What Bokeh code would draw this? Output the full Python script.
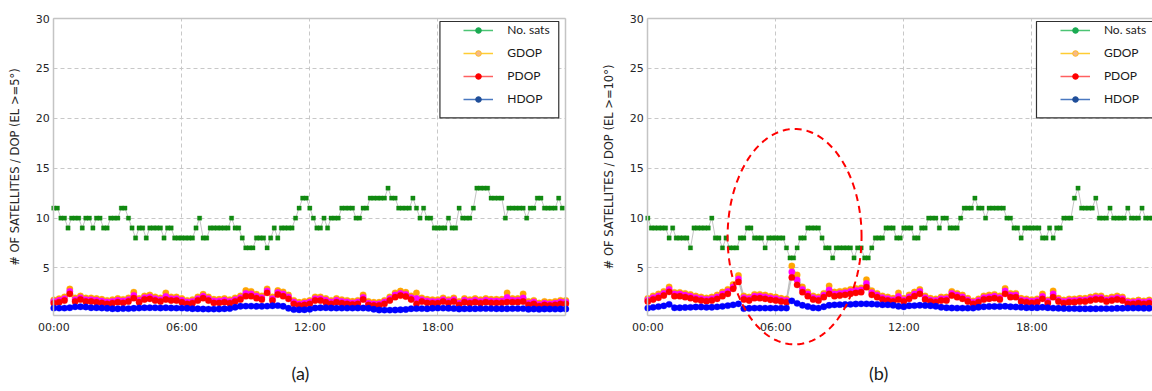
import numpy as np
from bokeh.plotting import figure
from bokeh.layouts import row
from bokeh.models import (Range1d, FixedTicker, Legend, LegendItem, Label,
                          PolyAnnotation, BoxAnnotation, LinearAxis)
from bokeh.embed import file_html
from bokeh.resources import INLINE

# ---------------- data ----------------
hour_ticks = [0, 6, 12, 18]
hour_labels = ["00:00", "06:00", "12:00", "18:00"]
y_ticks = [5, 10, 15, 20, 25, 30]

SATS_STEP_H = 1 / 6   # 10-minute samples
DOP_STEP_H = 0.25     # 15-minute samples

# panel (a): elevation mask 5 deg
sats_a = [11, 11, 10, 10, 9, 10, 10, 10, 9, 10,
          10, 9, 10, 10, 9, 9, 10, 10, 10, 11,
          11, 10, 9, 8, 9, 9, 8, 9, 9, 9,
          9, 8, 9, 9, 8, 8, 8, 8, 8, 8,
          9, 10, 8, 8, 9, 9, 9, 9, 9, 9,
          10, 9, 9, 8, 7, 7, 7, 8, 8, 8,
          7, 8, 9, 8, 9, 9, 9, 9, 10, 11,
          12, 12, 11, 10, 9, 9, 10, 9, 10, 10,
          10, 11, 11, 11, 11, 10, 10, 11, 11, 12,
          12, 12, 12, 12, 13, 12, 12, 11, 11, 11,
          11, 12, 11, 10, 11, 10, 10, 9, 9, 9,
          9, 10, 9, 9, 11, 10, 10, 10, 11, 13,
          13, 13, 13, 12, 12, 12, 12, 10, 11, 11,
          11, 11, 11, 10, 11, 11, 12, 12, 11, 11,
          11, 11, 12, 11]
gdop_a = [1.80, 1.92, 2.10, 2.90, 2.00, 2.20, 2.00, 2.00, 1.93, 1.86,
          1.75, 1.82, 1.93, 1.85, 2.00, 2.57, 1.93, 2.20, 2.28, 2.10,
          2.00, 2.50, 2.10, 2.10, 1.93, 1.75, 1.82, 2.10, 2.36, 2.10,
          1.86, 1.86, 1.93, 1.82, 2.00, 2.20, 2.73, 2.65, 2.36, 2.20,
          2.90, 2.10, 2.73, 2.60, 2.28, 1.75, 1.56, 1.64, 1.75, 2.10,
          2.10, 1.93, 1.75, 1.93, 1.82, 1.75, 1.66, 1.75, 2.30, 1.64,
          1.56, 1.56, 1.75, 2.10, 2.50, 2.68, 2.56, 2.20, 2.50, 2.00,
          1.86, 1.82, 1.82, 2.00, 1.82, 2.00, 1.64, 1.93, 1.82, 1.93,
          1.82, 1.93, 1.86, 1.86, 1.86, 2.50, 1.93, 1.93, 2.40, 1.64,
          1.75, 1.48, 1.64, 1.56, 1.64, 1.75, 1.75]
mdop_a = [1.65, 1.76, 1.92, 2.65, 1.82, 2.02, 1.82, 1.82, 1.76, 1.68,
          1.58, 1.65, 1.76, 1.68, 1.82, 2.25, 1.76, 2.02, 2.10, 1.92,
          1.82, 2.15, 1.92, 1.92, 1.76, 1.58, 1.65, 1.92, 2.17, 1.92,
          1.68, 1.68, 1.76, 1.65, 1.82, 2.02, 2.45, 2.40, 2.17, 2.02,
          2.70, 1.92, 2.53, 2.38, 2.10, 1.58, 1.40, 1.47, 1.58, 1.92,
          1.92, 1.76, 1.58, 1.76, 1.65, 1.58, 1.50, 1.58, 2.05, 1.47,
          1.40, 1.40, 1.58, 1.92, 2.28, 2.45, 2.35, 2.02, 1.95, 1.82,
          1.68, 1.65, 1.65, 1.82, 1.65, 1.82, 1.47, 1.76, 1.65, 1.76,
          1.65, 1.76, 1.68, 1.68, 1.68, 2.05, 1.76, 1.76, 2.00, 1.47,
          1.58, 1.33, 1.47, 1.40, 1.47, 1.58, 1.58]
pdop_a = [1.47, 1.57, 1.73, 2.40, 1.63, 1.83, 1.63, 1.63, 1.57, 1.50,
          1.40, 1.47, 1.57, 1.50, 1.63, 1.97, 1.57, 1.83, 1.90, 1.73,
          1.63, 1.83, 1.73, 1.73, 1.57, 1.40, 1.47, 1.73, 1.97, 1.73,
          1.50, 1.50, 1.57, 1.47, 1.63, 1.83, 2.17, 2.17, 1.97, 1.83,
          2.50, 1.73, 2.33, 2.17, 1.90, 1.40, 1.23, 1.30, 1.40, 1.73,
          1.73, 1.57, 1.40, 1.57, 1.47, 1.40, 1.33, 1.40, 1.83, 1.30,
          1.23, 1.23, 1.40, 1.73, 2.07, 2.23, 2.13, 1.83, 1.40, 1.63,
          1.50, 1.47, 1.47, 1.63, 1.47, 1.63, 1.30, 1.57, 1.47, 1.57,
          1.47, 1.57, 1.50, 1.50, 1.50, 1.57, 1.57, 1.57, 1.63, 1.30,
          1.40, 1.17, 1.30, 1.23, 1.30, 1.40, 1.40]
hdop_a = [0.97, 0.97, 0.97, 1.00, 1.10, 1.10, 1.08, 1.00, 1.00, 0.98,
          0.95, 0.90, 0.90, 0.92, 0.92, 0.95, 0.98, 1.00, 1.00, 1.00,
          0.98, 1.00, 0.98, 0.97, 0.97, 0.95, 0.90, 0.90, 0.88, 0.87,
          0.87, 0.88, 0.90, 0.92, 1.05, 1.15, 1.17, 1.17, 1.15, 1.15,
          1.17, 1.20, 1.22, 1.15, 0.95, 0.82, 0.80, 0.80, 0.85, 0.98,
          1.00, 1.00, 0.98, 0.97, 0.97, 0.97, 0.97, 0.98, 0.98, 0.95,
          0.85, 0.78, 0.77, 0.77, 0.78, 0.80, 0.83, 0.90, 0.92, 0.92,
          0.90, 0.95, 0.97, 0.97, 0.95, 0.93, 0.88, 0.90, 0.90, 0.90,
          0.92, 0.92, 0.92, 0.90, 0.90, 0.90, 0.92, 0.92, 0.92, 0.85,
          0.88, 0.85, 0.88, 0.88, 0.87, 0.88, 0.88]

# panel (b): elevation mask 10 deg
sats_b = [10, 9, 9, 9, 9, 9, 8, 9, 8, 8,
          8, 8, 7, 9, 9, 9, 9, 9, 10, 8,
          8, 7, 8, 7, 7, 7, 8, 8, 9, 9,
          8, 8, 8, 7, 8, 8, 8, 8, 8, 7,
          6, 6, 7, 8, 8, 9, 9, 9, 9, 8,
          7, 7, 6, 7, 7, 7, 7, 7, 6, 7,
          7, 6, 6, 7, 8, 8, 8, 9, 9, 9,
          8, 8, 9, 9, 9, 8, 8, 9, 9, 10,
          10, 10, 9, 10, 10, 9, 9, 9, 10, 11,
          11, 11, 12, 11, 11, 10, 11, 11, 11, 11,
          11, 10, 10, 9, 9, 8, 9, 9, 9, 9,
          9, 8, 8, 9, 8, 9, 9, 10, 10, 10,
          12, 13, 11, 11, 11, 11, 12, 10, 10, 10,
          11, 10, 10, 10, 10, 11, 10, 10, 10, 11,
          10, 10, 10, 10]
gdop_b = [1.95, 2.20, 2.40, 2.65, 3.10, 2.55, 2.55, 2.45, 2.33, 2.18,
          2.08, 2.00, 2.08, 2.28, 2.58, 2.85, 3.35, 4.25, 2.20, 2.08,
          2.35, 2.35, 2.28, 2.16, 2.08, 1.96, 1.90, 5.20, 4.30, 3.10,
          2.58, 2.20, 2.08, 2.45, 3.20, 2.58, 2.65, 2.72, 2.85, 2.95,
          3.00, 3.83, 2.72, 2.45, 2.20, 2.08, 1.96, 2.50, 1.96, 2.28,
          2.58, 2.85, 2.20, 1.96, 1.90, 2.08, 2.08, 2.65, 2.45, 2.28,
          1.96, 1.70, 1.90, 2.20, 2.28, 2.35, 2.20, 2.95, 2.45, 2.45,
          1.96, 1.90, 1.82, 1.90, 2.40, 1.78, 2.70, 1.96, 1.78, 1.90,
          1.90, 1.96, 1.96, 2.08, 2.20, 2.20, 1.96, 2.08, 2.20, 2.08,
          1.70, 1.70, 1.78, 1.70, 1.78, 1.70, 1.70]
mdop_b = [1.80, 2.02, 2.20, 2.45, 2.85, 2.38, 2.38, 2.27, 2.16, 2.02,
          1.92, 1.85, 1.92, 2.10, 2.38, 2.63, 3.10, 3.90, 2.02, 1.92,
          2.16, 2.16, 2.10, 1.98, 1.92, 1.80, 1.74, 4.60, 3.80, 2.85,
          2.38, 2.02, 1.92, 2.27, 2.80, 2.38, 2.45, 2.52, 2.63, 2.73,
          2.80, 3.45, 2.52, 2.27, 2.02, 1.92, 1.80, 2.15, 1.80, 2.10,
          2.38, 2.63, 2.02, 1.80, 1.74, 1.92, 1.92, 2.45, 2.27, 2.10,
          1.80, 1.56, 1.74, 2.02, 2.10, 2.16, 2.02, 2.68, 2.27, 2.27,
          1.80, 1.74, 1.66, 1.74, 2.15, 1.63, 2.40, 1.80, 1.63, 1.74,
          1.74, 1.80, 1.80, 1.92, 2.02, 2.02, 1.80, 1.92, 2.02, 1.92,
          1.56, 1.56, 1.63, 1.56, 1.63, 1.56, 1.56]
pdop_b = [1.63, 1.83, 2.00, 2.23, 2.60, 2.17, 2.17, 2.07, 1.97, 1.83,
          1.73, 1.67, 1.73, 1.90, 2.17, 2.40, 2.90, 3.60, 1.83, 1.73,
          1.97, 1.97, 1.90, 1.80, 1.73, 1.63, 1.57, 4.05, 3.30, 2.57,
          2.17, 1.83, 1.73, 2.07, 2.40, 2.17, 2.23, 2.30, 2.40, 2.50,
          2.57, 3.07, 2.30, 2.07, 1.83, 1.73, 1.63, 1.83, 1.63, 1.90,
          2.17, 2.40, 1.83, 1.63, 1.57, 1.73, 1.73, 2.23, 2.07, 1.90,
          1.63, 1.40, 1.57, 1.83, 1.90, 1.97, 1.83, 2.40, 2.07, 2.07,
          1.63, 1.57, 1.50, 1.57, 1.90, 1.47, 2.07, 1.63, 1.47, 1.57,
          1.57, 1.63, 1.63, 1.73, 1.83, 1.83, 1.63, 1.73, 1.83, 1.73,
          1.40, 1.40, 1.47, 1.40, 1.47, 1.40, 1.40]
hdop_b = [0.97, 1.05, 1.12, 1.20, 1.35, 1.00, 1.00, 1.03, 1.05, 1.08,
          1.08, 1.05, 1.05, 1.10, 1.15, 1.22, 1.30, 1.40, 0.92, 0.95,
          0.97, 0.97, 0.97, 0.97, 0.97, 0.97, 0.97, 1.70, 1.45, 1.25,
          1.13, 1.00, 0.97, 1.10, 1.25, 1.30, 1.32, 1.33, 1.35, 1.38,
          1.40, 1.40, 1.38, 1.35, 1.30, 1.30, 1.25, 1.15, 1.10, 1.20,
          1.22, 1.25, 1.23, 1.20, 1.15, 1.05, 1.00, 0.98, 0.97, 0.97,
          0.97, 0.97, 1.05, 1.10, 1.13, 1.13, 1.13, 1.15, 1.10, 1.08,
          1.05, 1.00, 1.00, 1.00, 1.05, 1.00, 0.97, 0.95, 0.93, 0.92,
          0.92, 0.90, 0.90, 0.90, 0.90, 0.92, 0.92, 0.92, 0.95, 0.95,
          0.97, 0.97, 0.97, 0.95, 0.95, 0.97, 0.97]

legend_labels = ["No. sats", "GDOP", "PDOP", "HDOP"]

# ---------------- styling / geometry ----------------
FONT = "DejaVu Sans"
TXT = "#262626"
FRAME = "#c4c4c4"
GRID = "#c8c8c8"
CONNECT = "#b4b4b4"
SAT_C = "#118a11"
G_C, M_C, P_C, H_C = "#ffa500", "#ff00ff", "#ff0000", "#0000ff"
LEG = [("#4cc474", "#1aaa52", "#1aaa52"),
       ("#ffcc33", "#f6b98a", "#ffbb22"),
       ("#ff6060", "#ff0000", "#ff0000"),
       ("#4a78c0", "#1f4e99", "#1f4e99")]

H = 391
TOP_PX, AXIS_PX = 18, 315
Y_TOP, Y_AXIS = 30.0, 0.23
X_END = 24
UNIT_PER_PX = (Y_TOP - Y_AXIS) / (AXIS_PX - TOP_PX)
Y_BOTTOM = Y_AXIS - (H - AXIS_PX) * UNIT_PER_PX
Y_CANVAS_TOP = Y_TOP + TOP_PX * UNIT_PER_PX
PX_PER_H = 512 / 24
NAN = float("nan")


def make_panel(sats, gdop, mdop, pdop, hdop, ytitle, width, x0_px,
               right_frame, tag, tag_x, box_left, box_right):
    p = figure(width=width, height=H, output_backend="svg",
               toolbar_location=None,
               x_range=Range1d(-x0_px / PX_PER_H, (width - x0_px) / PX_PER_H),
               y_range=Range1d(Y_BOTTOM, Y_CANVAS_TOP),
               min_border=0, min_border_left=0, min_border_right=0,
               min_border_top=0, min_border_bottom=0,
               background_fill_color="white", border_fill_color="white")
    p.outline_line_color = None

    p.xaxis.ticker = FixedTicker(ticks=hour_ticks)
    p.xaxis.major_label_overrides = {t: l for t, l in zip(hour_ticks, hour_labels)}
    p.xaxis.fixed_location = Y_AXIS
    p.xaxis.bounds = (0, X_END)
    p.yaxis.ticker = FixedTicker(ticks=y_ticks)
    p.yaxis.fixed_location = 0
    p.yaxis.bounds = (Y_AXIS, Y_TOP)
    p.xgrid.ticker = FixedTicker(ticks=hour_ticks)
    p.ygrid.ticker = FixedTicker(ticks=y_ticks)
    for g in (p.xgrid, p.ygrid):
        g.grid_line_color = GRID
        g.grid_line_dash = "4 3"
        g.grid_line_width = 1
    p.xgrid.cross_bounds = (Y_AXIS, Y_TOP)
    p.ygrid.cross_bounds = (0, X_END)
    for ax in (p.xaxis, p.yaxis):
        ax.axis_line_color = FRAME
        ax.axis_line_width = 1.5
        ax.major_tick_line_color = None
        ax.minor_tick_line_color = None
        ax.major_tick_out = 0
        ax.major_tick_in = 0
        ax.minor_tick_out = 0
        ax.major_label_text_font = FONT
        ax.major_label_text_font_size = "11px"
        ax.major_label_text_color = TXT
    p.xaxis.major_label_standoff = 5
    p.yaxis.major_label_standoff = 4
    p.yaxis.axis_label = ytitle
    p.yaxis.axis_label_text_font = FONT
    p.yaxis.axis_label_text_font_size = "11.5px"
    p.yaxis.axis_label_text_font_style = "normal"
    p.yaxis.axis_label_text_color = TXT
    p.yaxis.axis_label_standoff = 11

    # top (and right) border of the plotting box
    top_ax = LinearAxis(ticker=FixedTicker(ticks=[]), fixed_location=Y_TOP,
                        bounds=(0, X_END), axis_line_color=FRAME,
                        axis_line_width=1.5, major_tick_out=0, major_tick_in=0,
                        minor_tick_out=0, major_label_text_font_size="0px")
    p.add_layout(top_ax, "above")
    if right_frame:
        rax = LinearAxis(ticker=FixedTicker(ticks=[]), fixed_location=X_END,
                         bounds=(Y_AXIS, Y_TOP), axis_line_color=FRAME,
                         axis_line_width=1.5, major_tick_out=0,
                         major_tick_in=0, minor_tick_out=0,
                         major_label_text_font_size="0px")
        p.add_layout(rax, "right")

    t_s = [i * SATS_STEP_H for i in range(len(sats))]
    t_d = [j * DOP_STEP_H for j in range(len(pdop))]

    # thin connector lines
    for t, v in ((t_s, sats), (t_d, gdop), (t_d, mdop), (t_d, pdop), (t_d, hdop)):
        p.line(t, v, line_color=CONNECT, line_width=0.8)
    p.scatter(t_s, sats, marker="square", size=4.3, fill_color=SAT_C,
              line_color=SAT_C, line_width=0.3)
    for v, c in ((gdop, G_C), (mdop, M_C), (pdop, P_C), (hdop, H_C)):
        p.scatter(t_d, v, marker="circle", size=6.4, fill_color=c,
                  line_color=c, line_width=0.3)

    # legend box
    p.add_layout(BoxAnnotation(left=box_left, right=box_right, top=29.7,
                               bottom=20.03, fill_color="white", fill_alpha=1,
                               line_color="#303030", line_alpha=1,
                               line_width=1.2))
    items = []
    for lab, (lc, mf, ml) in zip(legend_labels, LEG):
        r1 = p.line(x=[NAN], y=[NAN], line_color=lc, line_width=1.5)
        r2 = p.scatter(x=[NAN], y=[NAN], marker="circle", size=6,
                       fill_color=mf, line_color=ml, line_width=1)
        items.append(LegendItem(label=lab, renderers=[r1, r2]))
    gx = x0_px + (box_left + 1.12) * PX_PER_H
    leg = Legend(items=items, location=(gx, H - 106), orientation="vertical",
                 padding=0, margin=0, spacing=8, glyph_width=30,
                 glyph_height=14, label_height=14, label_standoff=14,
                 border_line_color=None, background_fill_alpha=0,
                 label_text_font="Lato", label_text_font_size="12px",
                 label_text_color="#1a1a1a")
    p.add_layout(leg)

    tag_y = Y_AXIS - (372 - AXIS_PX) * UNIT_PER_PX
    p.add_layout(Label(x=tag_x, y=tag_y, text=tag, text_align="center",
                       text_baseline="middle", text_font="Lato",
                       text_font_size="18px", text_color="#1a1a1a"))
    return p


pa = make_panel(sats_a, gdop_a, mdop_a, pdop_a, hdop_a,
                "# OF SATELLITES / DOP (EL >=5°)", 575, 53.3, True,
                "(a)", 11.56, 18.1, 23.67)
pb = make_panel(sats_b, gdop_b, mdop_b, pdop_b, hdop_b,
                "# OF SATELLITES / DOP (EL >=10°)", 577, 72.3, False,
                "(b)", 10.82, 18.22, 25.0)

# highlight ellipse in panel (b)
ELL_CX, ELL_CY, ELL_A, ELL_B = 6.88, 8.13, 3.14, 10.8
th = np.linspace(0, 2 * np.pi, 160)
pb.add_layout(PolyAnnotation(xs=list(ELL_CX + ELL_A * np.cos(th)),
                             ys=list(ELL_CY + ELL_B * np.sin(th)),
                             fill_alpha=0, line_color="#ff0000", line_alpha=1,
                             line_width=2, line_dash="7 5"))

layout = row(pa, pb)
open("out.html", "w").write(file_html(layout, INLINE))
